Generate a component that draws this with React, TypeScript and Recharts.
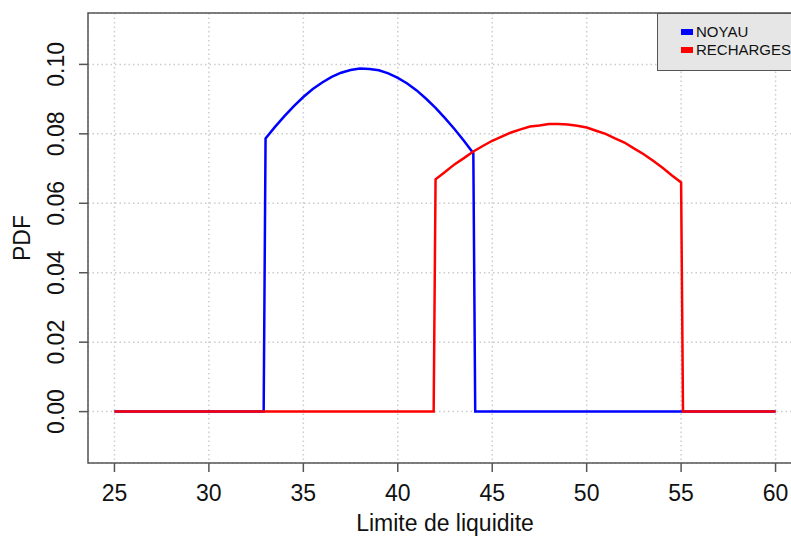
import React from "react";
import {
  LineChart,
  Line,
  XAxis,
  YAxis,
  CartesianGrid,
  ReferenceArea,
} from "recharts";

const xTicks = [25, 30, 35, 40, 45, 50, 55, 60];
const yTicks = [0, 0.02, 0.04, 0.06, 0.08, 0.1];

const noyauX = [25, 32.9, 33, 33.5, 34, 34.5, 35, 35.5, 36, 36.5, 37, 37.5, 38, 38.5, 39, 39.5, 40, 40.5, 41, 41.5, 42, 42.5, 43, 43.5, 44, 44.1, 60];
const noyauY = [0, 0, 0.0787, 0.082, 0.0851, 0.088, 0.0906, 0.0929, 0.0948, 0.0964, 0.0976, 0.0984, 0.0988, 0.0987, 0.0983, 0.0974, 0.0961, 0.0945, 0.0925, 0.0901, 0.0875, 0.0845, 0.0814, 0.078, 0.0744, 0, 0];

const rechargesX = [25, 41.9, 42, 42.5, 43, 43.5, 44, 44.5, 45, 45.5, 46, 46.5, 47, 47.5, 48, 48.5, 49, 49.5, 50, 50.5, 51, 51.5, 52, 52.5, 53, 53.5, 54, 54.5, 55, 55.1, 60];
const rechargesY = [0, 0, 0.0669, 0.069, 0.0712, 0.073, 0.0749, 0.0765, 0.078, 0.0792, 0.0804, 0.0813, 0.0821, 0.0824, 0.0828, 0.0828, 0.0827, 0.0823, 0.0818, 0.0809, 0.08, 0.0787, 0.0775, 0.0758, 0.0742, 0.0723, 0.0703, 0.0681, 0.066, 0, 0];

const seriesNames = ["NOYAU", "RECHARGES"];
const seriesColors = ["#0000ff", "#ff0000"];

const noyauData = noyauX.map((x, i) => ({ x, y: noyauY[i] }));
const rechargesData = rechargesX.map((x, i) => ({ x, y: rechargesY[i] }));

const FONT = "'Liberation Sans', Arial, sans-serif";
const W = 830;
const H = 538;
const X_DOMAIN: [number, number] = [23.6, 61.4];
const Y_DOMAIN: [number, number] = [-0.0148, 0.1148];

const YTick = (props: any) => {
  const { x, y, payload } = props;
  const tx = x - 13;
  return (
    <text
      x={tx}
      y={y}
      transform={`rotate(-90, ${tx}, ${y})`}
      textAnchor="middle"
      fontSize={23}
      fontFamily={FONT}
      fill="#111"
    >
      {Number(payload.value).toFixed(2)}
    </text>
  );
};

const XTick = (props: any) => {
  const { x, y, payload } = props;
  return (
    <text x={x} y={y + 27} textAnchor="middle" fontSize={23} fontFamily={FONT} fill="#111">
      {payload.value}
    </text>
  );
};

const YLabel = () => (
  <text x={30} y={238} transform="rotate(-90, 30, 238)" textAnchor="middle" fontSize={23} fontFamily={FONT} fill="#111">
    PDF
  </text>
);

const XLabel = () => (
  <text x={445} y={531} textAnchor="middle" fontSize={23} fontFamily={FONT} fill="#111">
    Limite de liquidite
  </text>
);

const LegendBox = () => (
  <div
    style={{
      position: "absolute",
      left: 657,
      top: 13,
      width: 145,
      height: 58,
      background: "#e6e6e6",
      border: "1.5px solid #555",
      boxSizing: "border-box",
      fontFamily: FONT,
      fontSize: 15,
      color: "#111",
    }}
  >
    {seriesNames.map((n, i) => (
      <div
        key={n}
        style={{ position: "absolute", left: 23, top: 9 + i * 18, display: "flex", alignItems: "center", whiteSpace: "nowrap" }}
      >
        <span style={{ display: "inline-block", width: 12, height: 6, background: seriesColors[i], marginRight: 3 }} />
        <span>{n}</span>
      </div>
    ))}
  </div>
);

export default function App() {
  return (
    <div style={{ position: "absolute", left: 0, top: 0, width: 791, height: 538, overflow: "hidden", background: "#fff" }}>
      <LineChart width={W} height={H} margin={{ top: 13, right: W - 802, left: 0, bottom: 0 }}>
        <CartesianGrid stroke="#cccccc" strokeDasharray="1.5 3" strokeWidth={1.5} />
        <XAxis
          type="number"
          dataKey="x"
          domain={X_DOMAIN}
          ticks={xTicks}
          allowDataOverflow
          axisLine={false}
          tickLine={{ stroke: "#555", strokeWidth: 1.5 }}
          tickSize={9}
          tick={<XTick />}
          height={75}
          label={{ content: <XLabel /> }}
        />
        <YAxis
          type="number"
          dataKey="y"
          domain={Y_DOMAIN}
          ticks={yTicks}
          allowDataOverflow
          axisLine={false}
          tickLine={{ stroke: "#555", strokeWidth: 1.5 }}
          tickSize={9}
          tick={<YTick />}
          width={88}
          label={{ content: <YLabel /> }}
        />
        <ReferenceArea x1={X_DOMAIN[0]} x2={X_DOMAIN[1]} y1={Y_DOMAIN[0]} y2={Y_DOMAIN[1]} fill="none" stroke="#555" strokeWidth={1.5} />
        <Line
          data={noyauData}
          dataKey="y"
          name={seriesNames[0]}
          type="linear"
          stroke={seriesColors[0]}
          strokeWidth={2.5}
          dot={false}
          activeDot={false}
          isAnimationActive={false}
        />
        <Line
          data={rechargesData}
          dataKey="y"
          name={seriesNames[1]}
          type="linear"
          stroke={seriesColors[1]}
          strokeWidth={2.5}
          dot={false}
          activeDot={false}
          isAnimationActive={false}
        />
      </LineChart>
      <LegendBox />
    </div>
  );
}
